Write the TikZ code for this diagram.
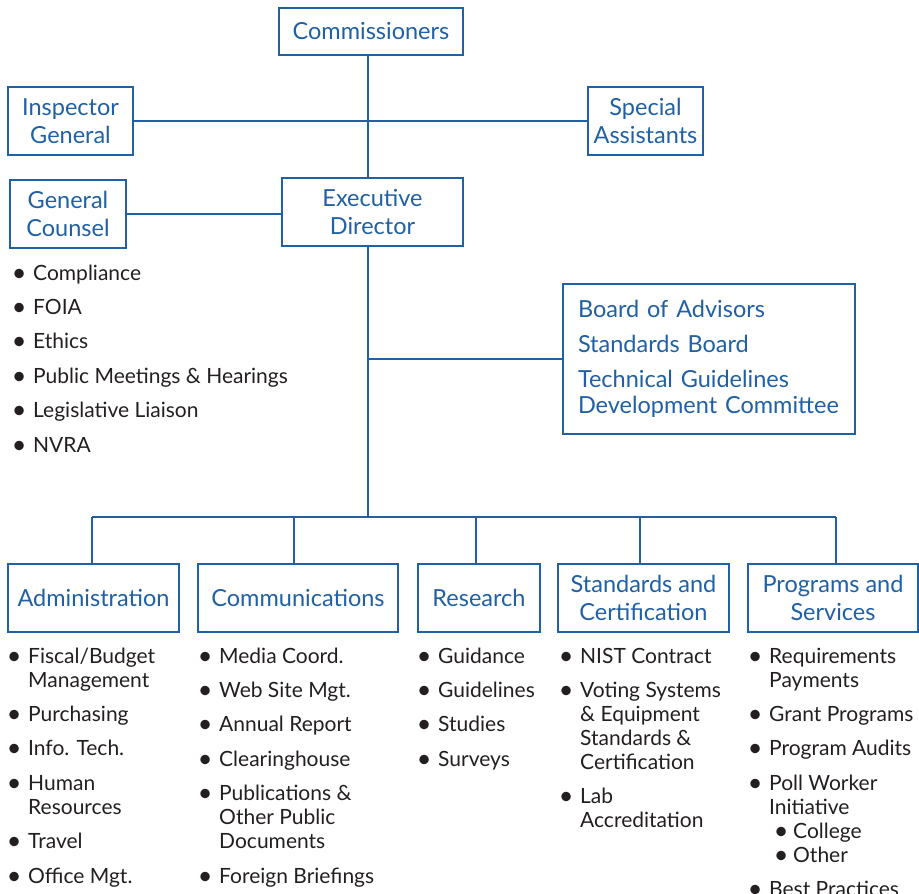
\documentclass[tikz,border=0pt]{standalone}
\usepackage{fontspec}
\usepackage{graphicx}
\setmainfont{Lato}
\definecolor{eacblue}{RGB}{32,96,164}
\definecolor{eactext}{RGB}{35,31,32}
\newcommand\btxt{\fontsize{23.5}{28.5}\selectfont}
\newcommand\ltxt{\fontsize{21}{24}\selectfont}
\newcommand\eacbul{\raisebox{-1pt}{\scalebox{1.2}{\textbullet}}}
% first item, further items, continuation lines, sub-items
\newcommand\eacfirst[1]{\hbox{\makebox[28pt][c]{\eacbul}#1}}
\newcommand\eacnext[1]{\vskip10.4pt\hbox{\makebox[28pt][c]{\eacbul}#1}}
\newcommand\eaccont[1]{\hbox{\hspace*{28pt}#1}}
\newcommand\eacsub[1]{\hbox{\hspace*{28pt}\makebox[24pt][c]{\eacbul}#1}}
\newcommand\eaclist[1]{\vtop{\ltxt\baselineskip=24pt #1}}
\begin{document}
\begin{tikzpicture}[x=1pt,y=-1pt,
  box/.style={draw=eacblue, line width=1.4pt, text=eacblue, font=\btxt, align=center, inner sep=0pt},
  link/.style={draw=eacblue, line width=1.4pt},
  lstnode/.style={text=eactext, font=\ltxt, anchor=base west, inner sep=0pt}]
\useasboundingbox (0,0) rectangle (919,894);
\clip (0,0) rectangle (919,894);
% boxes
\node[box, minimum width=184pt, minimum height=47pt] (comm) at (371,31.5) {Commissioners};
\node[box, minimum width=125pt, minimum height=68pt] (ig) at (70.5,121) {Inspector\\General};
\node[box, minimum width=115pt, minimum height=68pt] (sa) at (645.5,121) {Special\\Assistants};
\node[box, minimum width=116pt, minimum height=68pt] (gc) at (68,214) {General\\Counsel};
\node[box, minimum width=181pt, minimum height=68pt] (ed) at (372.5,212) {Executive\\Director};
\node[box, minimum width=292pt, minimum height=150pt, text width=262pt, align=left, font=\fontsize{23.5}{26}\selectfont] (board) at (709,359)
  {Board of Advisors\\[9pt]Standards Board\\[9pt]Technical Guidelines\\Development Committee};
\node[box, minimum width=171pt, minimum height=68pt] (admin) at (93.5,598) {Administration};
\node[box, minimum width=200pt, minimum height=68pt] (commun) at (298,598) {Communications};
\node[box, minimum width=122pt, minimum height=68pt] (research) at (479,598) {Research};
\node[box, minimum width=171pt, minimum height=68pt] (std) at (643.5,598) {Standards and\\Certification};
\node[box, minimum width=170pt, minimum height=68pt] (prog) at (833,598) {Programs and\\Services};
% coordinates
\coordinate (spine) at (368,0);
\coordinate (busL) at (92,517);
\coordinate (busR) at (836,517);
\coordinate (d2) at (294,517);
\coordinate (d3) at (476,517);
\coordinate (d4) at (640,517);
% connectors
\draw[link] (comm.south -| spine) -- (ed.north -| spine);
\draw[link] (ig.east) -- (sa.west);
\draw[link] (gc.east) -- (gc.east -| ed.west);
\draw[link] (ed.south -| spine) -- (spine |- busL);
\draw[link] (board.west) -- (board.west -| spine);
\draw[link] (busL) -- (busR);
\draw[link] (busL) -- (admin.north -| busL);
\draw[link] (d2) -- (commun.north -| d2);
\draw[link] (d3) -- (research.north -| d3);
\draw[link] (d4) -- (std.north -| d4);
\draw[link] (busR) -- (prog.north -| busR);
% lists
\node[lstnode] (gclist) at (5,280) {\eaclist{\eacfirst{Compliance}\eacnext{FOIA}\eacnext{Ethics}\eacnext{Public Meetings \& Hearings}\eacnext{Legislative Liaison}\eacnext{NVRA}}};
\node[lstnode] (adminlist) at (0,663) {\eaclist{\eacfirst{Fiscal/Budget}\eaccont{Management}\eacnext{Purchasing}\eacnext{Info. Tech.}\eacnext{Human}\eaccont{Resources}\eacnext{Travel}\eacnext{Office Mgt.}}};
\node[lstnode] (communlist) at (191,663) {\eaclist{\eacfirst{Media Coord.}\eacnext{Web Site Mgt.}\eacnext{Annual Report}\eacnext{Clearinghouse}\eacnext{Publications \&}\eaccont{Other Public}\eaccont{Documents}\eacnext{Foreign Briefings}}};
\node[lstnode] (reslist) at (410,663) {\eaclist{\eacfirst{Guidance}\eacnext{Guidelines}\eacnext{Studies}\eacnext{Surveys}}};
\node[lstnode] (stdlist) at (552,663) {\eaclist{\eacfirst{NIST Contract}\eacnext{Voting Systems}\eaccont{\& Equipment}\eaccont{Standards \&}\eaccont{Certification}\eacnext{Lab}\eaccont{Accreditation}}};
\node[lstnode] (proglist) at (741,663) {\eaclist{\eacfirst{Requirements}\eaccont{Payments}\eacnext{Grant Programs}\eacnext{Program Audits}\eacnext{Poll Worker}\eaccont{Initiative}\eacsub{College}\eacsub{Other}\eacnext{Best Practices}}};
\end{tikzpicture}
\end{document}
